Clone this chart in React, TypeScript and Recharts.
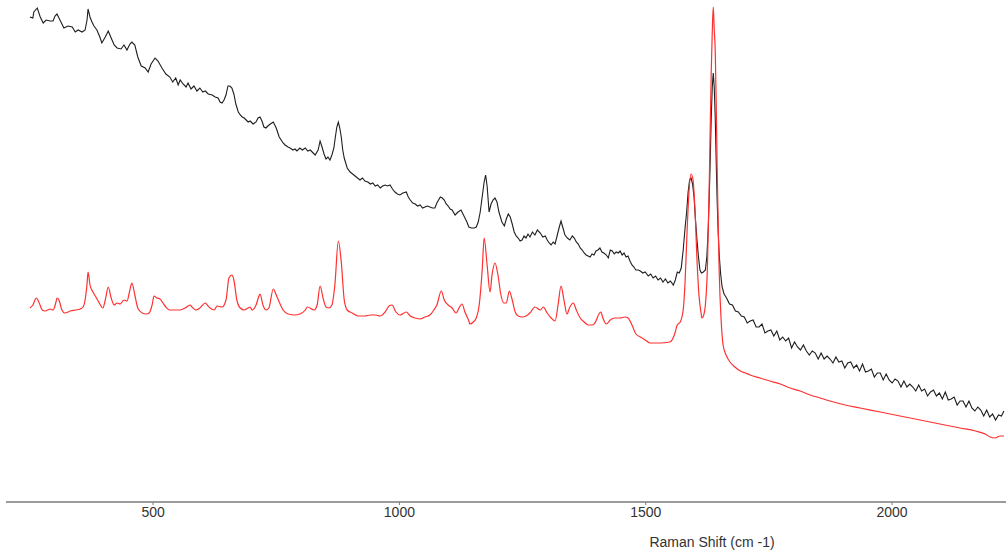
import { LineChart, Line, XAxis, YAxis } from "recharts"

// Raman spectra: wavenumber (cm-1) vs intensity (arbitrary units)
const sampleSpectrum: [number, number][] = [
  [250, 485], [256, 484], [258, 490], [265, 494], [271, 485], [277, 479], [283, 482], [291, 481],
  [297, 481], [301, 486], [305, 488], [313, 480], [319, 474], [327, 476], [336, 475], [342, 470],
  [348, 472], [356, 470], [362, 472], [366, 482], [368, 493], [372, 485], [376, 480], [380, 476],
  [386, 472], [392, 465], [396, 459], [403, 465], [409, 471], [415, 464], [421, 457], [427, 454],
  [435, 453], [441, 457], [447, 452], [453, 458], [457, 460], [463, 457], [469, 445], [476, 436],
  [484, 434], [490, 430], [496, 438], [504, 444], [510, 441], [518, 434], [526, 428], [534, 425],
  [540, 420], [546, 424], [551, 417], [555, 422], [561, 418], [567, 415], [571, 419], [577, 413],
  [583, 416], [589, 411], [595, 414], [601, 410], [606, 411], [612, 408], [620, 407], [626, 405],
  [632, 404], [636, 400], [640, 399], [644, 402], [648, 407], [652, 416], [656, 416], [660, 414],
  [664, 408], [668, 398], [673, 390], [677, 387], [681, 385], [685, 384], [689, 382], [693, 380],
  [697, 381], [703, 378], [709, 380], [713, 384], [717, 385], [721, 381], [725, 375], [729, 374],
  [733, 376], [738, 378], [744, 380], [750, 374], [756, 365], [764, 359], [768, 357], [774, 355],
  [778, 354], [784, 352], [788, 353], [792, 351], [798, 354], [803, 352], [809, 354], [814, 351],
  [819, 352], [823, 350], [829, 347], [835, 352], [839, 361], [843, 355], [847, 348], [851, 343],
  [855, 345], [859, 342], [863, 347], [867, 354], [870, 365], [873, 375], [876, 380], [879, 374],
  [882, 365], [885, 352], [888, 344], [894, 334], [900, 330], [905, 328], [910, 326], [915, 324],
  [920, 322], [925, 324], [930, 321], [936, 320], [941, 318], [946, 319], [951, 316], [956, 317],
  [961, 314], [966, 316], [971, 317], [976, 316], [981, 317], [986, 313], [991, 310], [996, 308],
  [1001, 307], [1007, 309], [1014, 310], [1018, 305], [1022, 302], [1027, 299], [1032, 298], [1037, 296],
  [1042, 297], [1047, 294], [1052, 295], [1057, 296], [1062, 295], [1067, 294], [1072, 294], [1076, 299],
  [1083, 305], [1087, 304], [1091, 302], [1095, 298], [1099, 296], [1103, 293], [1107, 292], [1113, 287],
  [1119, 290], [1125, 292], [1129, 288], [1133, 284], [1137, 280], [1141, 275], [1146, 274], [1152, 274],
  [1156, 275], [1160, 280], [1164, 290], [1168, 305], [1172, 320], [1175, 327], [1178, 316], [1182, 290],
  [1186, 298], [1190, 302], [1194, 304], [1198, 300], [1202, 290], [1208, 280], [1213, 276], [1217, 283],
  [1221, 288], [1225, 285], [1229, 278], [1233, 270], [1237, 266], [1241, 264], [1245, 261], [1249, 262],
  [1253, 266], [1257, 264], [1261, 268], [1265, 265], [1270, 270], [1275, 267], [1280, 272], [1286, 269],
  [1291, 265], [1296, 266], [1300, 262], [1304, 259], [1308, 257], [1312, 260], [1316, 258], [1320, 266],
  [1324, 274], [1328, 281], [1332, 274], [1336, 267], [1341, 264], [1346, 262], [1351, 266], [1355, 264],
  [1359, 260], [1363, 258], [1367, 254], [1371, 252], [1375, 249], [1379, 247], [1383, 246], [1387, 245],
  [1391, 248], [1395, 247], [1399, 251], [1403, 252], [1407, 254], [1411, 250], [1415, 249], [1420, 247],
  [1424, 244], [1428, 252], [1432, 251], [1436, 248], [1440, 250], [1444, 249], [1448, 251], [1452, 247],
  [1456, 249], [1460, 245], [1464, 246], [1468, 241], [1472, 237], [1476, 235], [1480, 232], [1485, 232],
  [1489, 231], [1494, 229], [1499, 230], [1505, 226], [1510, 228], [1515, 224], [1520, 226], [1525, 222],
  [1530, 224], [1535, 220], [1540, 223], [1545, 219], [1550, 221], [1556, 217], [1560, 222], [1564, 230],
  [1568, 229], [1572, 234], [1576, 252], [1580, 275], [1583, 290], [1586, 310], [1589, 322], [1592, 324],
  [1595, 318], [1598, 305], [1601, 282], [1604, 262], [1607, 245], [1610, 232], [1613, 229], [1617, 230],
  [1621, 232], [1624, 245], [1627, 275], [1630, 325], [1633, 385], [1635, 415], [1637, 429], [1639, 415],
  [1641, 385], [1643, 340], [1645, 300], [1647, 270], [1649, 248], [1652, 228], [1655, 215], [1659, 208],
  [1664, 204], [1670, 198], [1676, 197], [1682, 191], [1688, 190], [1694, 186], [1700, 185], [1706, 179],
  [1712, 181], [1718, 182], [1724, 175], [1730, 175], [1736, 178], [1742, 169], [1748, 171], [1754, 172],
  [1760, 166], [1766, 171], [1772, 162], [1778, 165], [1784, 161], [1790, 164], [1796, 154], [1802, 160],
  [1808, 155], [1814, 152], [1820, 157], [1826, 151], [1832, 147], [1838, 151], [1844, 149], [1850, 143],
  [1856, 149], [1862, 143], [1868, 146], [1874, 143], [1880, 139], [1886, 145], [1892, 140], [1898, 141],
  [1904, 134], [1910, 139], [1916, 140], [1922, 134], [1928, 137], [1934, 131], [1940, 138], [1946, 130],
  [1952, 131], [1958, 133], [1964, 125], [1970, 129], [1976, 129], [1982, 122], [1988, 128], [1994, 122],
  [2000, 119], [2006, 123], [2012, 121], [2018, 115], [2024, 121], [2030, 115], [2036, 118], [2042, 115],
  [2048, 111], [2054, 117], [2060, 111], [2066, 113], [2072, 106], [2078, 110], [2084, 112], [2090, 106],
  [2096, 109], [2102, 103], [2108, 110], [2114, 102], [2120, 103], [2126, 105], [2132, 97], [2138, 101],
  [2144, 101], [2150, 95], [2156, 101], [2162, 94], [2168, 91], [2174, 95], [2180, 92], [2186, 86],
  [2192, 92], [2198, 85], [2204, 88], [2210, 82], [2216, 87], [2222, 86], [2227, 91],
]

const referenceSpectrum: [number, number][] = [
  [250, 194], [256, 197], [263, 204], [269, 199], [275, 192], [281, 191], [291, 193], [297, 192],
  [303, 200], [305, 204], [309, 202], [315, 192], [321, 189], [332, 191], [342, 192], [352, 193],
  [358, 195], [362, 202], [366, 218], [368, 230], [372, 217], [378, 210], [384, 205], [392, 198],
  [398, 194], [403, 202], [409, 215], [415, 204], [421, 197], [427, 199], [433, 198], [441, 202],
  [447, 201], [453, 212], [457, 219], [463, 207], [469, 194], [478, 189], [486, 188], [492, 189],
  [498, 197], [502, 206], [508, 204], [514, 203], [520, 199], [526, 195], [534, 192], [545, 192],
  [555, 192], [565, 194], [575, 197], [579, 195], [587, 192], [595, 194], [606, 199], [610, 197],
  [616, 194], [624, 192], [630, 196], [640, 195], [648, 202], [654, 224], [660, 227], [664, 222],
  [670, 202], [677, 194], [685, 192], [693, 194], [697, 195], [701, 192], [709, 197], [715, 206],
  [717, 208], [723, 197], [729, 192], [735, 194], [744, 213], [750, 207], [756, 200], [764, 192],
  [774, 188], [788, 187], [798, 188], [809, 192], [813, 195], [827, 192], [833, 197], [839, 216],
  [845, 204], [851, 195], [857, 194], [863, 197], [869, 217], [876, 261], [882, 240], [888, 202],
  [894, 192], [904, 189], [916, 186], [930, 186], [941, 187], [951, 187], [961, 186], [971, 190],
  [979, 196], [985, 197], [993, 190], [1001, 187], [1014, 190], [1022, 186], [1032, 184], [1042, 183],
  [1052, 185], [1062, 187], [1070, 192], [1076, 197], [1085, 211], [1091, 202], [1099, 197], [1107, 194],
  [1115, 189], [1121, 194], [1127, 198], [1133, 190], [1141, 181], [1143, 178], [1150, 180], [1156, 184],
  [1162, 197], [1168, 232], [1172, 264], [1178, 237], [1184, 210], [1188, 227], [1194, 239], [1200, 227],
  [1206, 207], [1212, 199], [1217, 199], [1223, 211], [1229, 202], [1235, 190], [1241, 186], [1249, 185],
  [1257, 186], [1265, 189], [1275, 195], [1286, 192], [1292, 195], [1300, 189], [1308, 184], [1316, 181],
  [1322, 197], [1328, 216], [1334, 202], [1340, 188], [1346, 195], [1353, 199], [1359, 192], [1367, 184],
  [1375, 180], [1383, 177], [1391, 177], [1399, 181], [1403, 186], [1409, 190], [1413, 184], [1420, 178],
  [1428, 182], [1436, 184], [1448, 184], [1458, 185], [1464, 184], [1472, 177], [1480, 168], [1489, 165],
  [1499, 162], [1509, 159], [1529, 159], [1549, 160], [1558, 167], [1564, 177], [1570, 180], [1576, 192],
  [1580, 222], [1584, 272], [1588, 312], [1592, 328], [1596, 322], [1600, 292], [1604, 242], [1608, 207],
  [1612, 190], [1614, 184], [1617, 186], [1621, 197], [1625, 232], [1629, 322], [1633, 432], [1635, 470],
  [1637, 495], [1639, 472], [1641, 452], [1643, 400], [1645, 332], [1647, 280], [1649, 232], [1653, 182],
  [1657, 157], [1663, 147], [1671, 140], [1681, 135], [1692, 131], [1702, 129], [1712, 127], [1732, 124],
  [1752, 121], [1773, 118], [1793, 114], [1813, 111], [1834, 107], [1854, 104], [1874, 101], [1905, 97],
  [1935, 94], [1976, 90], [2016, 86], [2057, 82], [2097, 78], [2138, 74], [2169, 71], [2189, 68],
  [2199, 65], [2209, 64], [2219, 66], [2227, 66],
]

const xTicks = [500, 1000, 1500, 2000]

const toPoints = (rows: [number, number][]) => rows.map(([shift, intensity]) => ({ shift, intensity }))

export default function App() {
  const font = "'Liberation Sans', Arial, sans-serif"
  return (
    <div style={{ position: "absolute", left: 0, top: 0, background: "#fff" }}>
      <LineChart width={1006} height={554} margin={{ top: 2, right: 0, left: 6, bottom: 22 }}>
        <XAxis
          type="number"
          dataKey="shift"
          domain={[201.5, 2231.2]}
          allowDataOverflow
          ticks={xTicks}
          height={30}
          tickSize={3}
          axisLine={{ stroke: "#7a7a7a", strokeWidth: 1.5 }}
          tickLine={{ stroke: "#7a7a7a" }}
          tick={{ fontSize: 14, fontFamily: font, fill: "#333" }}
          label={{ value: "Raman Shift (cm -1)", position: "bottom", offset: 5, dx: 206, fontSize: 14, fontFamily: font, fill: "#333" }}
        />
        <YAxis type="number" domain={[0, 500]} allowDataOverflow hide />
        <Line
          data={toPoints(sampleSpectrum)}
          dataKey="intensity"
          type="linear"
          stroke="#1e1e1e"
          strokeWidth={1.1}
          dot={false}
          isAnimationActive={false}
        />
        <Line
          data={toPoints(referenceSpectrum)}
          dataKey="intensity"
          type="monotone"
          stroke="#ff3030"
          strokeWidth={1.2}
          dot={false}
          isAnimationActive={false}
        />
      </LineChart>
    </div>
  )
}
